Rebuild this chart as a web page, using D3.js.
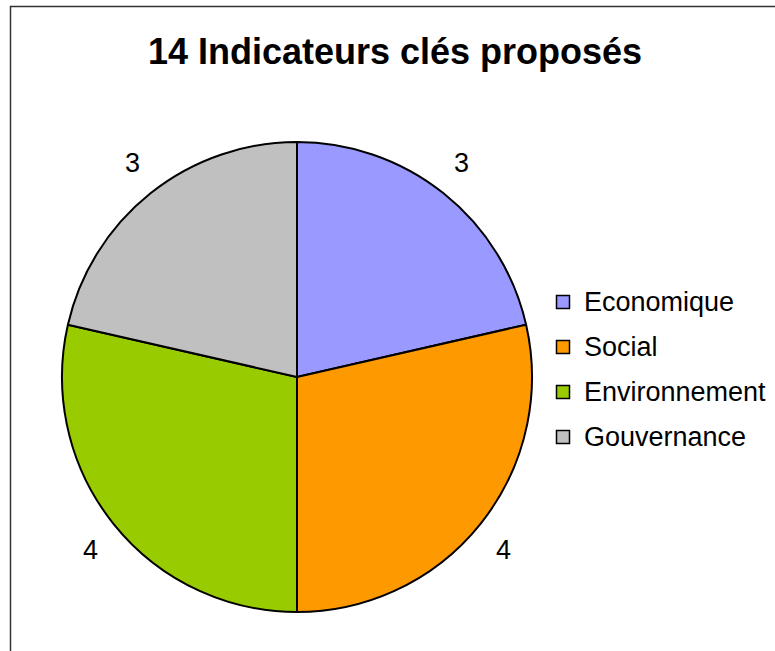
<!DOCTYPE html>
<html lang="fr">
<head>
<meta charset="UTF-8">
<script src="https://d3js.org/d3.v7.min.js"></script>
<style>
  body { margin: 0; background: #fff; }
  text { font-family: "Liberation Sans", Arial, sans-serif; }
</style>
</head>
<body>
<div id="chart"></div>
<script>
  const categories = ["Economique", "Social", "Environnement", "Gouvernance"];
  const values = [3, 4, 4, 3];
  const colors = ["#9999FF", "#FF9900", "#99CC00", "#C0C0C0"];
  const title = "14 Indicateurs clés proposés";

  const width = 775, height = 651;
  const cx = 297, cy = 377, radius = 235;

  const svg = d3.select("#chart").append("svg")
    .attr("width", width)
    .attr("height", height);

  // frame of the chart area (runs off the right and bottom edges)
  svg.append("rect")
    .attr("x", 10.5).attr("y", 6.5)
    .attr("width", 800).attr("height", 700)
    .attr("fill", "#fff")
    .attr("stroke", "#333").attr("stroke-width", 1.5);

  svg.append("text")
    .attr("x", 395).attr("y", 64)
    .attr("text-anchor", "middle")
    .attr("font-size", 36).attr("font-weight", "bold")
    .text(title);

  const pie = d3.pie().sort(null).value(d => d)(values);
  const arc = d3.arc().innerRadius(0).outerRadius(radius);
  const labelArc = d3.arc().innerRadius(264).outerRadius(264);

  const g = svg.append("g").attr("transform", `translate(${cx},${cy})`);

  g.selectAll("path")
    .data(pie)
    .join("path")
    .attr("d", arc)
    .attr("fill", (d, i) => colors[i])
    .attr("stroke", "#000")
    .attr("stroke-width", 2)
    .attr("stroke-linejoin", "round");

  g.selectAll("text.lbl")
    .data(pie)
    .join("text")
    .attr("class", "lbl")
    .attr("x", d => labelArc.centroid(d)[0])
    .attr("y", d => labelArc.centroid(d)[1] + (labelArc.centroid(d)[1] < 0 ? -8 : 8))
    .attr("text-anchor", "middle")
    .attr("dominant-baseline", "central")
    .attr("font-size", 27)
    .text(d => d.data);

  const legend = svg.append("g").attr("transform", "translate(556,302)");
  const y = d3.scalePoint().domain(categories).range([0, 135]);

  const item = legend.selectAll("g")
    .data(categories)
    .join("g")
    .attr("transform", d => `translate(0,${y(d)})`);

  item.append("rect")
    .attr("x", 0.5).attr("y", -6.5)
    .attr("width", 13).attr("height", 13)
    .attr("fill", (d, i) => colors[i])
    .attr("stroke", "#000").attr("stroke-width", 1.5);

  item.append("text")
    .attr("x", 28).attr("y", 0)
    .attr("dominant-baseline", "central")
    .attr("font-size", 27)
    .text(d => d);
</script>
</body>
</html>
